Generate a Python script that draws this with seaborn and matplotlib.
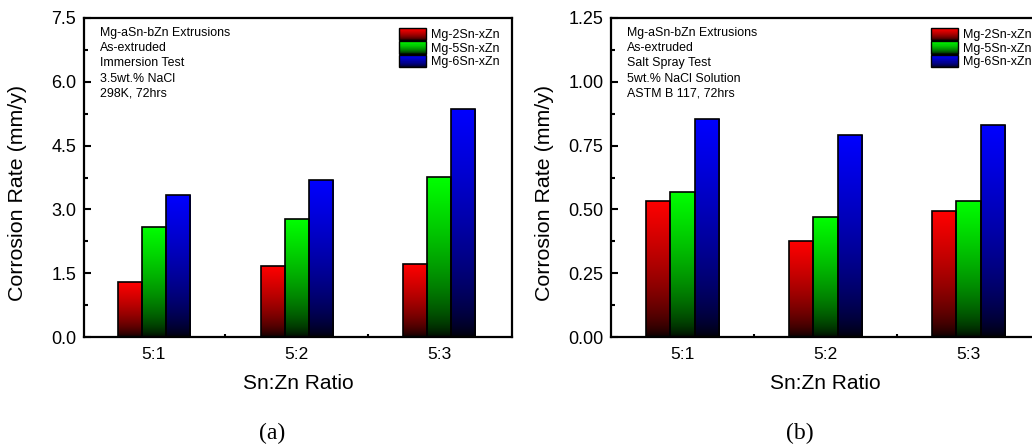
import numpy as np
import pandas as pd
import matplotlib
matplotlib.use("Agg")
import matplotlib.pyplot as plt
import seaborn as sns
from matplotlib.patches import Rectangle, Patch
from matplotlib.legend_handler import HandlerBase
from matplotlib.ticker import MultipleLocator, FormatStrFormatter, FixedLocator

# ---------------- data ----------------
ratios = ["5:1", "5:2", "5:3"]
alloys = ["Mg-2Sn-xZn", "Mg-5Sn-xZn", "Mg-6Sn-xZn"]

immersion_2sn = [1.29, 1.66, 1.71]
immersion_5sn = [2.59, 2.77, 3.76]
immersion_6sn = [3.34, 3.68, 5.37]

spray_2sn = [0.533, 0.376, 0.493]
spray_5sn = [0.568, 0.471, 0.533]
spray_6sn = [0.853, 0.791, 0.831]

notes_a = ["Mg-aSn-bZn Extrusions", "As-extruded", "Immersion Test",
           "3.5wt.% NaCl", "298K, 72hrs"]
notes_b = ["Mg-aSn-bZn Extrusions", "As-extruded", "Salt Spray Test",
           "5wt.% NaCl Solution", "ASTM B 117, 72hrs"]

colors = {"Mg-2Sn-xZn": (1.0, 0.0, 0.0),
          "Mg-5Sn-xZn": (0.0, 1.0, 0.0),
          "Mg-6Sn-xZn": (0.0, 0.0, 1.0)}


def long_df(series):
    rows = []
    for alloy, vals in zip(alloys, series):
        for r, v in zip(ratios, vals):
            rows.append({"ratio": r, "alloy": alloy, "rate": v})
    return pd.DataFrame(rows)


df_a = long_df([immersion_2sn, immersion_5sn, immersion_6sn])
df_b = long_df([spray_2sn, spray_5sn, spray_6sn])

# ---------------- style ----------------
sns.set_style("ticks")
plt.rcParams["font.family"] = ["Liberation Sans", "DejaVu Sans"]
plt.rcParams["axes.linewidth"] = 1.6
for k in ["text.color", "axes.labelcolor", "xtick.color", "ytick.color",
          "axes.edgecolor"]:
    plt.rcParams[k] = "black"

W, H = 1032, 446
fig = plt.figure(figsize=(W / 100, H / 100), dpi=100)
ax_a = fig.add_axes([84 / W, (H - 337) / H, 428 / W, 319 / H])
ax_b = fig.add_axes([611 / W, (H - 337) / H, 429 / W, 319 / H])


def gradient_fill(ax, gamma=0.6):
    for cont, alloy in zip(ax.containers, alloys):
        col = np.array(colors[alloy])
        t = np.linspace(0, 1, 256) ** gamma
        img = (t[:, None, None] * col[None, None, :])
        for p in cont.patches:
            x0, y0 = p.get_x(), p.get_y()
            w, h = p.get_width(), p.get_height()
            im = ax.imshow(img, extent=[x0, x0 + w, y0, y0 + h], origin="lower",
                           aspect="auto", zorder=1.5, interpolation="bilinear")
            im.set_clip_path(p)
            p.set_facecolor("none")
            p.set_edgecolor("black")
            p.set_linewidth(1.2)
            p.set_zorder(2)


class GradHandler(HandlerBase):
    def __init__(self, color, n=24):
        super().__init__()
        self.color = np.array(color)
        self.n = n

    def create_artists(self, legend, orig_handle, xdescent, ydescent,
                       width, height, fontsize, trans):
        arts = []
        for i in range(self.n):
            t = ((i + 0.5) / self.n) ** 0.6
            r = Rectangle((-xdescent, -ydescent + height * i / self.n), width,
                          height / self.n + 0.02, facecolor=self.color * t,
                          edgecolor="none", transform=trans)
            arts.append(r)
        arts.append(Rectangle((-xdescent, -ydescent), width, height,
                              facecolor="none", edgecolor="black", lw=1.0,
                              transform=trans))
        return arts


def style_axes(ax, df, ymax, ystep, fmt, notes, legend_x, caption, xlim, width_px):
    sns.barplot(data=df, x="ratio", y="rate", hue="alloy", order=ratios,
                hue_order=alloys, width=0.505, legend=False, ax=ax,
                errorbar=None)
    gradient_fill(ax)
    ax.set_xlim(*xlim)
    ax.set_ylim(0, ymax)
    for s in ax.spines.values():
        s.set_visible(True)
        s.set_linewidth(1.6)
        s.set_color("black")
    ax.yaxis.set_major_locator(MultipleLocator(ystep))
    ax.yaxis.set_minor_locator(MultipleLocator(ystep / 2))
    ax.yaxis.set_major_formatter(FormatStrFormatter(fmt))
    ax.xaxis.set_minor_locator(FixedLocator([0.5, 1.5]))
    ax.tick_params(axis="y", which="major", direction="in", length=5, width=1.5,
                   labelsize=13, pad=5.5, colors="black")
    ax.tick_params(axis="y", which="minor", direction="in", length=3, width=1.5)
    ax.tick_params(axis="x", which="major", direction="in", length=3, width=1.5,
                   labelsize=12.5, pad=7, colors="black")
    ax.tick_params(axis="x", which="minor", direction="in", length=2, width=1.5)
    ax.set_xlabel("Sn:Zn Ratio", fontsize=15, color="black")
    ax.set_ylabel("Corrosion Rate (mm/y)", fontsize=15.4, color="black")
    ax.yaxis.set_label_coords(-57 / width_px, (337 - 193) / 319)
    ax.xaxis.set_label_coords(0.5, (337 - 374) / 319)

    y0 = (337 - 36) / 319
    dy = 15.2 / 319
    for i, line in enumerate(notes):
        ax.text(0.037, y0 - i * dy, line, transform=ax.transAxes,
                fontsize=8.9, va="baseline", ha="left", color="black")

    proxies = [Patch(label=a) for a in alloys]
    hmap = {p: GradHandler(colors[a]) for p, a in zip(proxies, alloys)}
    leg = ax.legend(handles=proxies, handler_map=hmap, loc="upper left",
                    bbox_to_anchor=(legend_x, (337 - 28) / 319), frameon=False,
                    fontsize=9, labelspacing=0, handlelength=2.16,
                    handleheight=1.14, handletextpad=0.36, borderpad=0,
                    borderaxespad=0)
    for t in leg.get_texts():
        t.set_color("black")
    ax.text(0.44, -0.303, caption, transform=ax.transAxes, fontsize=17,
            family="Liberation Serif", ha="center", va="center", color="black")


style_axes(ax_a, df_a, 7.5, 1.5, "%.1f", notes_a, (399 - 84) / 428, "(a)",
           (-0.49, 2.51), 428)
style_axes(ax_b, df_b, 1.25, 0.25, "%.2f", notes_b, (931 - 611) / 429, "(b)",
           (-0.5, 2.5), 429)

fig.savefig("out.png", dpi=100)
